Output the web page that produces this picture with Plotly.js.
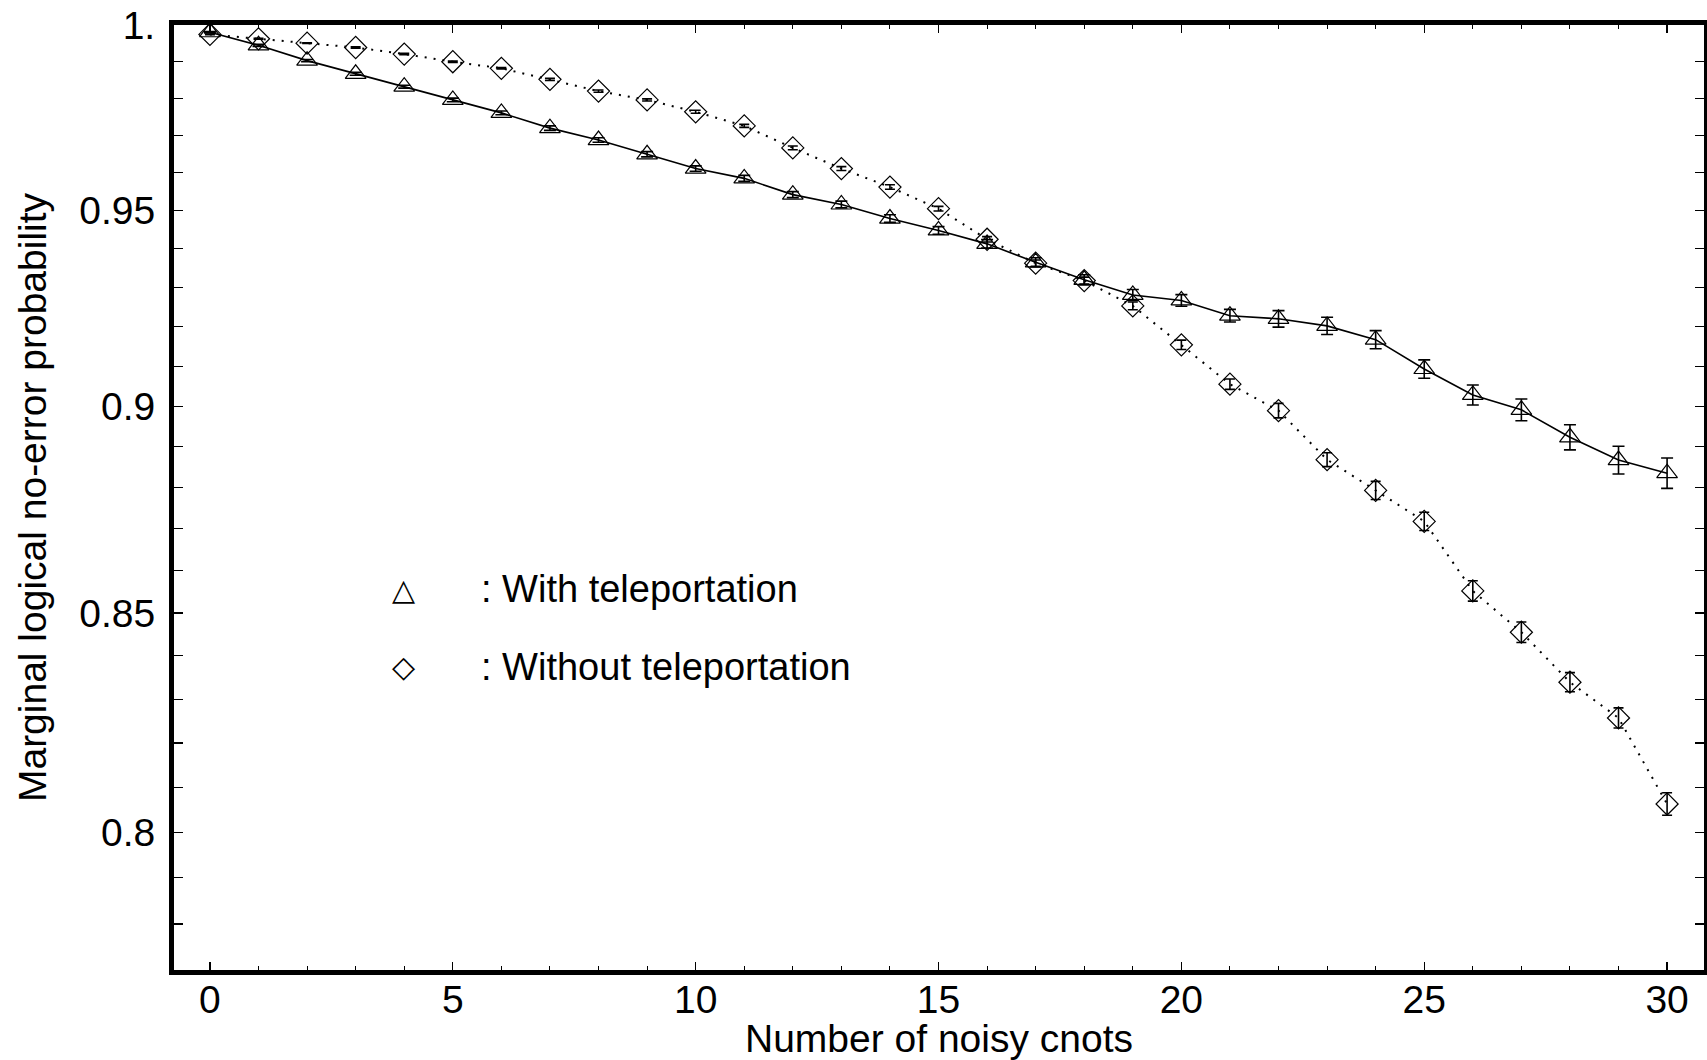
<!DOCTYPE html>
<html>
<head>
<meta charset="utf-8">
<script src="https://cdn.plot.ly/plotly-3.0.1.min.js"></script>
<style>
  html, body { margin: 0; padding: 0; background: #ffffff; }
  #chart { width: 1707px; height: 1060px; }
</style>
</head>
<body>
<div id="chart"></div>
<script>
// Number of noisy CNOT gates on the horizontal axis
const noisyCnots = [0, 1, 2, 3, 4, 5, 6, 7, 8, 9, 10, 11, 12, 13, 14, 15,
                    16, 17, 18, 19, 20, 21, 22, 23, 24, 25, 26, 27, 28, 29, 30];

// Marginal logical no-error probability, with teleportation
const withTeleport = [0.9980, 0.9944, 0.9902, 0.9866, 0.9831, 0.9795, 0.9760, 0.9719,
                      0.9687, 0.9649, 0.9611, 0.9585, 0.9542, 0.9516, 0.9479, 0.9448,
                      0.9413, 0.9365, 0.9320, 0.9281, 0.9267, 0.9228, 0.9220, 0.9202,
                      0.9167, 0.9093, 0.9028, 0.8991, 0.8923, 0.8867, 0.8835];
const withTeleportErr = [0.0002, 0.0003, 0.0003, 0.0004, 0.0004, 0.0005, 0.0005, 0.0006,
                         0.0006, 0.0007, 0.0007, 0.0008, 0.0008, 0.0009, 0.0010, 0.0010,
                         0.0011, 0.0012, 0.0013, 0.0014, 0.0015, 0.0016, 0.0021, 0.0022,
                         0.0023, 0.0023, 0.0025, 0.0027, 0.0031, 0.0034, 0.0037];

// Marginal logical no-error probability, without teleportation
const withoutTeleport = [0.9974, 0.9962, 0.9950, 0.9938, 0.9920, 0.9899, 0.9881, 0.9851,
                         0.9819, 0.9795, 0.9763, 0.9725, 0.9666, 0.9611, 0.9562, 0.9505,
                         0.9425, 0.9363, 0.9318, 0.9253, 0.9154, 0.9055, 0.8989, 0.8868,
                         0.8793, 0.8718, 0.8552, 0.8455, 0.8339, 0.8257, 0.8063];
const withoutTeleportErr = [0.0001, 0.0001, 0.0001, 0.0002, 0.0002, 0.0002, 0.0002, 0.0003,
                            0.0003, 0.0003, 0.0004, 0.0004, 0.0005, 0.0005, 0.0006, 0.0006,
                            0.0007, 0.0008, 0.0009, 0.0010, 0.0012, 0.0013, 0.0018, 0.0017,
                            0.0022, 0.0022, 0.0024, 0.0024, 0.0022, 0.0023, 0.0025];

// Axis ticks
const xMajorTicks = [0, 5, 10, 15, 20, 25, 30];
const yTickVals = [0.78, 0.79, 0.80, 0.81, 0.82, 0.83, 0.84, 0.85, 0.86, 0.87, 0.88, 0.89,
                   0.90, 0.91, 0.92, 0.93, 0.94, 0.95, 0.96, 0.97, 0.98, 0.99, 1.00];
const yTickText = ['', '', '0.8', '', '', '', '', '0.85', '', '', '', '',
                   '0.9', '', '', '', '', '0.95', '', '', '', '', '1.'];

const seriesNames = [': With teleportation', ': Without teleportation'];
const seriesGlyphs = ['\u25B3', '\u25C7'];

const FONT = 'Liberation Sans, Arial, Helvetica, sans-serif';

const traces = [
  {
    x: noisyCnots,
    y: withTeleport,
    error_y: { type: 'data', array: withTeleportErr, visible: true,
               color: '#000', thickness: 1.6, width: 6 },
    mode: 'lines+markers',
    line: { color: '#000', width: 1.6 },
    marker: { symbol: 'triangle-up-open', size: 18, color: '#000', line: { width: 1.2 } },
    cliponaxis: false,
    showlegend: false,
    name: seriesNames[0]
  },
  {
    x: noisyCnots,
    y: withoutTeleport,
    error_y: { type: 'data', array: withoutTeleportErr, visible: true,
               color: '#000', thickness: 1.6, width: 5 },
    mode: 'lines+markers',
    line: { color: '#000', width: 2, dash: '2px,7px' },
    marker: { symbol: 'diamond-open', size: 17, color: '#000', line: { width: 1.2 } },
    cliponaxis: false,
    showlegend: false,
    name: seriesNames[1]
  }
];

// Hand-made key inside the frame: glyph followed by its description
const legendRows = [0.403, 0.321];
const annotations = [];
for (let i = 0; i < 2; i++) {
  annotations.push({
    xref: 'paper', yref: 'paper', x: 0.1497, y: legendRows[i],
    xanchor: 'center', yanchor: 'middle', showarrow: false,
    text: seriesGlyphs[i], font: { family: 'DejaVu Sans', size: 30, color: '#000' }
  });
  annotations.push({
    xref: 'paper', yref: 'paper', x: 0.1993, y: legendRows[i],
    xanchor: 'left', yanchor: 'middle', showarrow: false,
    text: seriesNames[i], font: { family: FONT, size: 38, color: '#000' }
  });
}

const layout = {
  width: 1707,
  height: 1060,
  paper_bgcolor: '#fff',
  plot_bgcolor: '#fff',
  margin: { l: 174, r: 3, t: 25, b: 90 },
  font: { family: FONT, size: 39, color: '#000' },
  showlegend: false,
  xaxis: {
    range: [-0.74, 30.76],
    tickmode: 'array',
    tickvals: xMajorTicks,
    ticktext: xMajorTicks.map(String),
    ticks: 'inside',
    ticklen: 8,
    tickwidth: 1.2,
    tickcolor: '#000',
    minor: { dtick: 1, tick0: 0, ticks: 'inside', ticklen: 4, tickwidth: 1, tickcolor: '#000' },
    showgrid: false,
    zeroline: false,
    showline: true,
    linewidth: 5,
    linecolor: '#000',
    mirror: 'allticks',
    ticklabelstandoff: -9,
    tickfont: { family: FONT, size: 39 },
    title: { text: 'Number of noisy cnots', font: { family: FONT, size: 39 }, standoff: 3 }
  },
  yaxis: {
    type: 'log',
    range: [Math.log10(0.77014), 0],
    tickmode: 'array',
    tickvals: yTickVals,
    ticktext: yTickText,
    ticks: 'inside',
    ticklen: 9,
    tickwidth: 1.2,
    tickcolor: '#000',
    showgrid: false,
    zeroline: false,
    showline: true,
    linewidth: 5,
    linecolor: '#000',
    mirror: 'allticks',
    ticklabelstandoff: 6,
    tickfont: { family: FONT, size: 39 },
    title: { text: 'Marginal logical no-error probability', font: { family: FONT, size: 39 }, standoff: 22 }
  },
  annotations: annotations
};

Plotly.newPlot('chart', traces, layout, { displayModeBar: false, staticPlot: true });
</script>
</body>
</html>
